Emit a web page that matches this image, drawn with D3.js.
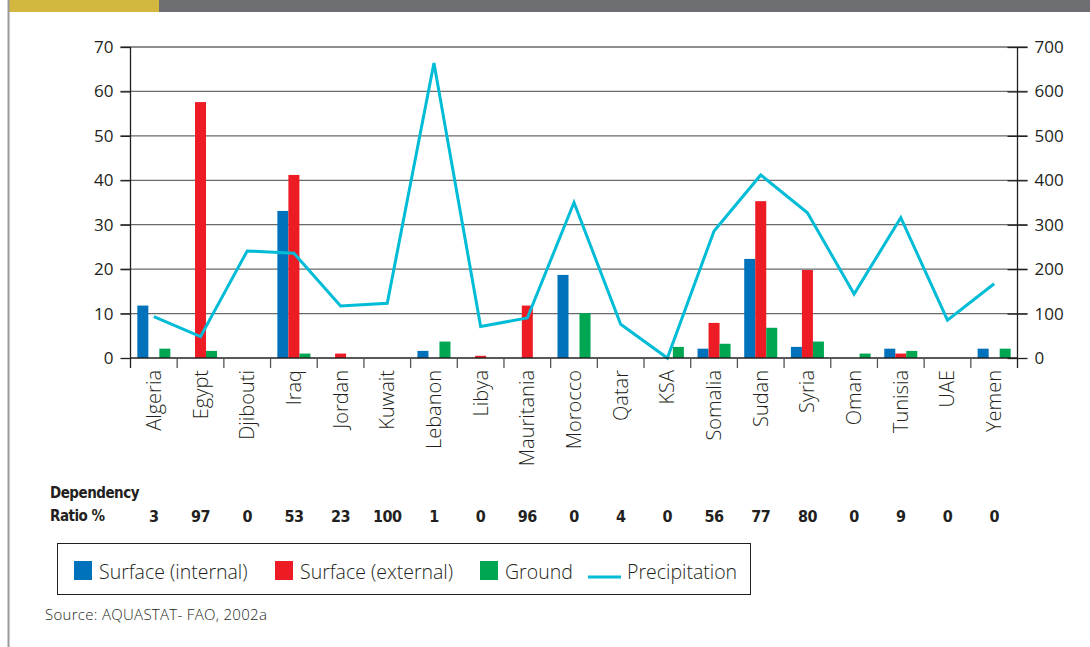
<!DOCTYPE html>
<html>
<head>
<meta charset="utf-8">
<script src="https://cdn.jsdelivr.net/npm/d3@7"></script>
<style>
  body { margin: 0; background: #fff; }
  text { font-family: "Open Sans", Lato, sans-serif; fill: #231f20; }
  .dep { font-family: "Liberation Sans Narrow", "DejaVu Sans Condensed", "Open Sans", sans-serif; font-weight: bold; font-stretch: condensed; }
</style>
</head>
<body>
<script>
const countries = ["Algeria","Egypt","Djibouti","Iraq","Jordan","Kuwait","Lebanon","Libya","Mauritania","Morocco","Qatar","KSA","Somalia","Sudan","Syria","Oman","Tunisia","UAE","Yemen"];
const surfaceInternal = [11.8, 0, 0, 33.1, 0, 0, 1.6, 0, 0, 18.7, 0, 0, 2.1, 22.3, 2.5, 0, 2.1, 0, 2.1];
const surfaceExternal = [0, 57.6, 0, 41.2, 1.0, 0, 0, 0.5, 11.8, 0, 0, 0, 7.9, 35.3, 19.8, 0, 1.0, 0, 0];
const ground = [2.1, 1.6, 0, 1.0, 0, 0, 3.7, 0, 0, 10.1, 0, 2.5, 3.2, 6.8, 3.7, 1.0, 1.6, 0, 2.1];
const precipitation = [93, 48, 241, 236, 117, 123, 664, 71, 90, 350, 76, 0, 286, 412, 327, 144, 316, 85, 167];
const dependency = [3, 97, 0, 53, 23, 100, 1, 0, 96, 0, 4, 0, 56, 77, 80, 0, 9, 0, 0];

const seriesNames = ["Surface (internal)", "Surface (external)", "Ground"];
const colors = ["#0071bb", "#ed1c24", "#00a651"];
const lineColor = "#00bcd6";

const W = 1090, H = 647;
const plotLeft = 130.5, plotRight = 1017.5, plotTop = 47, plotBottom = 358;

const svg = d3.select("body").append("svg")
    .attr("width", W)
    .attr("height", H);

// page decoration
svg.append("rect").attr("x", 8).attr("y", 0).attr("width", 151).attr("height", 12).attr("fill", "#d4b73e");
svg.append("rect").attr("x", 159).attr("y", 0).attr("width", W - 159).attr("height", 12).attr("fill", "#6d6e71");
svg.append("line").attr("x1", 8.5).attr("x2", 8.5).attr("y1", 0).attr("y2", H)
    .attr("stroke", "#9a9a9a").attr("stroke-width", 2);

const x = d3.scaleBand().domain(countries).range([plotLeft, plotRight]);
const xs = d3.scaleBand().domain(seriesNames).range([0, x.bandwidth()]).paddingOuter(0.62).paddingInner(0);
const y = d3.scaleLinear().domain([0, 70]).range([plotBottom, plotTop]);
const y2 = d3.scaleLinear().domain([0, 700]).range([plotBottom, plotTop]);

// gridlines
svg.append("g").selectAll("line")
    .data(d3.range(10, 71, 10))
  .enter().append("line")
    .attr("x1", plotLeft - 10).attr("x2", plotRight + 10)
    .attr("y1", d => y(d)).attr("y2", d => y(d))
    .attr("stroke", "#6a6a6a").attr("stroke-width", 1.3);

// bars
const table = countries.map((c, i) => ({
  country: c,
  values: [surfaceInternal[i], surfaceExternal[i], ground[i]]
}));

svg.append("g").selectAll("g")
    .data(table)
  .enter().append("g")
    .attr("transform", d => "translate(" + x(d.country) + ",0)")
  .selectAll("rect")
    .data(d => d.values.map((v, k) => ({name: seriesNames[k], value: v, k: k})))
  .enter().append("rect")
    .attr("x", d => xs(d.name))
    .attr("width", xs.bandwidth())
    .attr("y", d => y(d.value))
    .attr("height", d => plotBottom - y(d.value))
    .attr("fill", d => colors[d.k]);

// precipitation line
const line = d3.line()
    .x((d, i) => x(countries[i]) + x.bandwidth() / 2)
    .y(d => y2(d));

svg.append("path")
    .datum(precipitation)
    .attr("d", line)
    .attr("fill", "none")
    .attr("stroke", lineColor)
    .attr("stroke-width", 3);

// left axis
const yAxis = svg.append("g")
    .attr("transform", "translate(" + plotLeft + ",0)")
    .call(d3.axisLeft(y).tickValues(d3.range(0, 71, 10)).tickSize(10).tickPadding(7));
yAxis.select(".domain").attr("stroke", "#231f20").attr("stroke-width", 1.3).attr("d", "M0," + plotTop + "V" + (plotBottom + 10));
yAxis.selectAll(".tick line").attr("stroke", "#231f20").attr("stroke-width", 1.3);
yAxis.selectAll("text").style("font-size", "17px").style("font-family", "'Open Sans', sans-serif").attr("fill", "#231f20");

// right axis
const yAxis2 = svg.append("g")
    .attr("transform", "translate(" + plotRight + ",0)")
    .call(d3.axisRight(y2).tickValues(d3.range(0, 701, 100)).tickSize(10).tickPadding(7));
yAxis2.select(".domain").attr("stroke", "#231f20").attr("stroke-width", 1.3).attr("d", "M0," + plotTop + "V" + (plotBottom + 10));
yAxis2.selectAll(".tick line").attr("stroke", "#231f20").attr("stroke-width", 1.3).attr("x1", -10);
yAxis2.selectAll("text").style("font-size", "17px").style("font-family", "'Open Sans', sans-serif").attr("fill", "#231f20");

// x axis baseline and category ticks
svg.append("line")
    .attr("x1", plotLeft).attr("x2", plotRight)
    .attr("y1", plotBottom).attr("y2", plotBottom)
    .attr("stroke", "#231f20").attr("stroke-width", 1.5);

svg.append("g").selectAll("line")
    .data(countries.slice(1))
  .enter().append("line")
    .attr("x1", d => x(d)).attr("x2", d => x(d))
    .attr("y1", plotBottom).attr("y2", plotBottom + 10)
    .attr("stroke", "#555").attr("stroke-width", 1.3);

// category labels (rotated)
svg.append("g").selectAll("text")
    .data(countries)
  .enter().append("text")
    .attr("transform", d => "translate(" + (x(d) + x.bandwidth() / 2 + 7) + "," + (plotBottom + 12) + ") rotate(-90)")
    .attr("text-anchor", "end")
    .style("font-size", "20px")
    .style("font-weight", 300)
    .text(d => d);

// dependency ratio row
svg.append("text").attr("class", "dep").attr("x", 50).attr("y", 498).style("font-size", "15px").style("letter-spacing", "-0.5px").text("Dependency");
svg.append("text").attr("class", "dep").attr("x", 50).attr("y", 521).style("font-size", "15px").style("letter-spacing", "-0.5px").text("Ratio %");

svg.append("g").selectAll("text")
    .data(dependency)
  .enter().append("text")
    .attr("class", "dep")
    .attr("x", (d, i) => x(countries[i]) + x.bandwidth() / 2)
    .attr("y", 522)
    .attr("text-anchor", "middle")
    .style("font-size", "16px")
    .style("letter-spacing", "-0.5px")
    .text(d => d);

// legend
svg.append("rect")
    .attr("x", 57.5).attr("y", 543.5).attr("width", 693).attr("height", 51)
    .attr("fill", "none").attr("stroke", "#231f20").attr("stroke-width", 1);

const legendItems = [
  {name: seriesNames[0], color: colors[0], x: 74, type: "rect"},
  {name: seriesNames[1], color: colors[1], x: 275, type: "rect"},
  {name: seriesNames[2], color: colors[2], x: 480, type: "rect"},
  {name: "Precipitation", color: lineColor, x: 588, type: "line"}
];

const lg = svg.append("g").selectAll("g")
    .data(legendItems)
  .enter().append("g")
    .attr("transform", d => "translate(" + d.x + ",0)");

lg.filter(d => d.type === "rect").append("rect")
    .attr("x", 0).attr("y", 561).attr("width", 18).attr("height", 19)
    .attr("fill", d => d.color);
lg.filter(d => d.type === "line").append("line")
    .attr("x1", 0).attr("x2", 33).attr("y1", 577).attr("y2", 577)
    .attr("stroke", d => d.color).attr("stroke-width", 3);
lg.append("text")
    .attr("x", d => d.type === "rect" ? 25 : 39)
    .attr("y", 579)
    .style("font-size", "19.5px")
    .style("font-weight", 300)
    .text(d => d.name);

// source
svg.append("text")
    .attr("x", 45).attr("y", 620)
    .style("font-size", "15px")
    .style("letter-spacing", "0.3px")
    .style("font-weight", 300)
    .text("Source: AQUASTAT- FAO, 2002a");
</script>
</body>
</html>
